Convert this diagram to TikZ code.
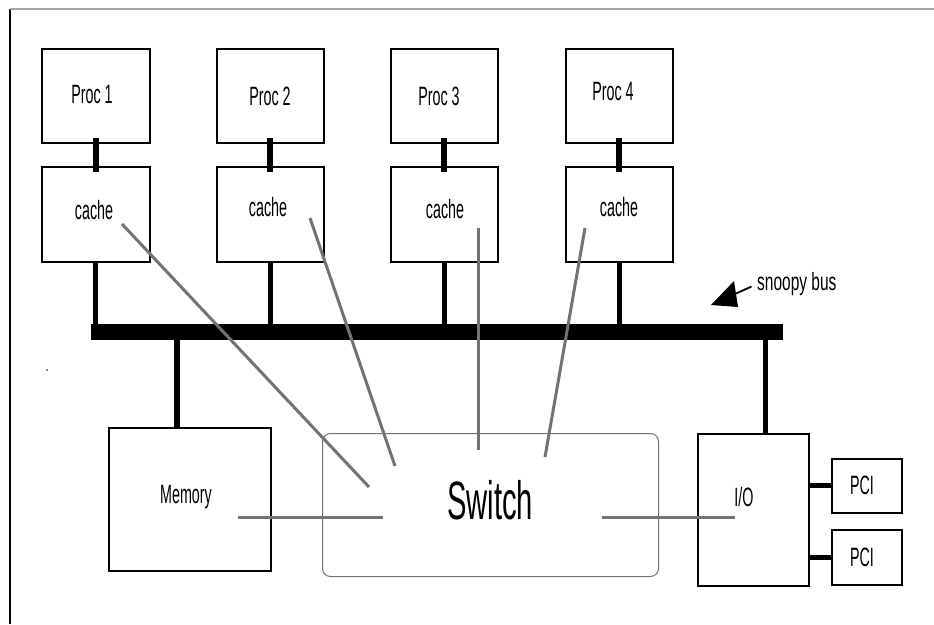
\documentclass[tikz,border=0pt]{standalone}
\usepackage{fontspec}
\setmainfont[FakeStretch=0.54]{Liberation Sans}
\newfontfamily\snoopfont[FakeStretch=0.62]{Liberation Sans}
\begin{document}
\begin{tikzpicture}[x=1pt,y=-1pt,
  box/.style={draw, line width=1.6pt, inner sep=0pt, anchor=north west},
  lbl/.style={inner sep=0pt, font=\fontsize{26.5}{30}\selectfont},
  bigl/.style={inner sep=0pt, font=\fontsize{54}{62}\selectfont},
  link/.style={line width=6pt},
  buslink/.style={line width=5pt},
  grayln/.style={draw=black!55, line width=3pt}]
\useasboundingbox (0,0) rectangle (934,624);
% frame
\draw[line width=1.2pt] (10,624) -- (10,9);
\draw[line width=1.2pt, gray!70] (10,9) -- (934,9);
\fill[gray] (46,369) rectangle (48,371);
% processors
\node[box, minimum width=108pt, minimum height=94pt] (p1) at (41,48) {};
\node[box, minimum width=107pt, minimum height=94pt] (p2) at (216,48) {};
\node[box, minimum width=107pt, minimum height=94pt] (p3) at (390,48) {};
\node[box, minimum width=107pt, minimum height=94pt] (p4) at (565,48) {};
% caches
\node[box, minimum width=108pt, minimum height=95pt] (c1) at (41,166) {};
\node[box, minimum width=107pt, minimum height=95pt] (c2) at (216,166) {};
\node[box, minimum width=107pt, minimum height=95pt] (c3) at (390,166) {};
\node[box, minimum width=107pt, minimum height=95pt] (c4) at (565,166) {};
% bus
\node[fill=black, inner sep=0pt, anchor=north west, minimum width=692pt, minimum height=16pt] (bus) at (91,324) {};
% lower boxes
\node[box, minimum width=162pt, minimum height=143pt] (mem) at (108,427) {};
\node[draw=black!55, line width=1pt, rounded corners=8pt, inner sep=0pt, anchor=north west, minimum width=336pt, minimum height=143pt] (sw) at (322,433) {};
\node[box, minimum width=111pt, minimum height=152pt] (io) at (697,433) {};
\node[box, minimum width=70pt, minimum height=54pt] (pci1) at (831,458) {};
\node[box, minimum width=70pt, minimum height=55pt] (pci2) at (831,529) {};
% labels
\node[lbl] (t1) at (92,95) {Proc 1};
\node[lbl] (t2) at (270,96) {Proc 2};
\node[lbl] (t3) at (439,96) {Proc 3};
\node[lbl] (t4) at (613,92) {Proc 4};
\node[lbl] (k1) at (94,210) {cache};
\node[lbl] (k2) at (268,207) {cache};
\node[lbl] (k3) at (445,209) {cache};
\node[lbl] (k4) at (619,207) {cache};
\node[lbl] (tm) at (186,497) {Memory};
\node[bigl] (ts) at (490,500) {Switch};
\node[lbl] (tio) at (744,497) {I/O};
\node[lbl] (tp1) at (862,485) {PCI};
\node[lbl] (tp2) at (862,557) {PCI};
\node[inner sep=0pt, anchor=west, font=\snoopfont\fontsize{25}{29}\selectfont] (tsb) at (757,284) {snoopy bus};
% proc-cache links
\foreach \i in {1,2,3,4}{
  \draw[link, shorten <=-6pt, shorten >=-6pt] (p\i.south) -- (c\i.north);
  \draw[buslink] (c\i.south) -- (c\i.south |- bus.north);
}
% memory and io links
\draw[link] ([xshift=-13pt]mem.north) -- ([xshift=-13pt]mem.north |- bus.south);
\draw[buslink] ([xshift=12.5pt]io.north) -- ([xshift=12.5pt]io.north |- bus.south);
\draw[buslink] (pci1.west) -- (pci1.west -| io.east);
\draw[buslink] (pci2.west) -- (pci2.west -| io.east);
% snoopy bus arrow
\coordinate (ah) at (711,305);
\fill (ah) -- (734,281) -- (738,307) -- cycle;
\draw[line width=1.8pt, shorten >=6pt] (735,294) -- (tsb.west);
% switch fabric lines
\coordinate (g1a) at (122,224); \coordinate (g1b) at (369,487);
\coordinate (g2a) at (310,218); \coordinate (g2b) at (395,466);
\coordinate (g3a) at (478,228); \coordinate (g3b) at (478,450);
\coordinate (g4a) at (585,228); \coordinate (g4b) at (545,457);
\coordinate (g5a) at (238,517); \coordinate (g5b) at (383,517);
\coordinate (g6a) at (602,517); \coordinate (g6b) at (735,517);
\foreach \i in {1,...,6}{ \draw[grayln] (g\i a) -- (g\i b); }
\end{tikzpicture}
\end{document}
